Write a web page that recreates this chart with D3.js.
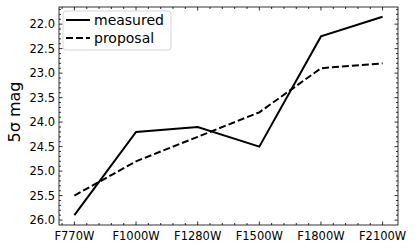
<!DOCTYPE html>
<html>
<head>
<meta charset="utf-8">
<script src="https://cdn.jsdelivr.net/npm/d3@7"></script>
<style>
  body { margin: 0; background: #fff; }
  svg { font-family: "DejaVu Sans", sans-serif; }
</style>
</head>
<body>
<div id="chart"></div>
<script>
const filters = ["F770W", "F1000W", "F1280W", "F1500W", "F1800W", "F2100W"];
const measured = [25.9, 24.2, 24.1, 24.5, 22.25, 21.85];
const proposal = [25.5, 24.8, 24.3, 23.8, 22.9, 22.8];
const yTicks = [22.0, 22.5, 23.0, 23.5, 24.0, 24.5, 25.0, 25.5, 26.0];

const width = 415, height = 250;
const margin = {top: 7, right: 17, bottom: 25, left: 59};

const svg = d3.select("#chart").append("svg")
  .attr("width", width)
  .attr("height", height);

const x = d3.scaleLinear().domain([-0.25, 5.25]).range([margin.left, width - margin.right]);
// magnitudes: brighter at top
const y = d3.scaleLinear().domain([21.65, 26.1]).range([margin.top, height - margin.bottom]);

const x0 = margin.left, x1 = width - margin.right;
const y0 = margin.top, y1 = height - margin.bottom;

// minor ticks
const xMinor = d3.range(-1, 26).map(i => i * 0.2).filter(v => v > -0.25 && v < 5.25 && Math.abs(v - Math.round(v)) > 1e-6);
const yMinor = d3.range(216, 262).map(i => i / 10).filter(v => v > 21.65 && v < 26.1 && Math.abs(v * 2 - Math.round(v * 2)) > 1e-6);

const ticks = svg.append("g").attr("stroke", "#000").attr("stroke-width", 0.8);
filters.forEach((f, i) => {
  ticks.append("line").attr("x1", x(i)).attr("x2", x(i)).attr("y1", y1).attr("y2", y1 - 3.5);
  ticks.append("line").attr("x1", x(i)).attr("x2", x(i)).attr("y1", y0).attr("y2", y0 + 3.5);
});
xMinor.forEach(v => {
  ticks.append("line").attr("x1", x(v)).attr("x2", x(v)).attr("y1", y1).attr("y2", y1 - 2);
  ticks.append("line").attr("x1", x(v)).attr("x2", x(v)).attr("y1", y0).attr("y2", y0 + 2);
});
yTicks.forEach(v => {
  ticks.append("line").attr("y1", y(v)).attr("y2", y(v)).attr("x1", x0).attr("x2", x0 + 3.5);
  ticks.append("line").attr("y1", y(v)).attr("y2", y(v)).attr("x1", x1).attr("x2", x1 - 3.5);
});
yMinor.forEach(v => {
  ticks.append("line").attr("y1", y(v)).attr("y2", y(v)).attr("x1", x0).attr("x2", x0 + 2);
  ticks.append("line").attr("y1", y(v)).attr("y2", y(v)).attr("x1", x1).attr("x2", x1 - 2);
});

// tick labels
svg.append("g").selectAll("text").data(filters).join("text")
  .attr("x", (d, i) => x(i))
  .attr("y", y1 + 15)
  .attr("text-anchor", "middle")
  .attr("font-size", 11.5)
  .text(d => d);

svg.append("g").selectAll("text").data(yTicks).join("text")
  .attr("x", x0 - 4)
  .attr("y", d => y(d))
  .attr("dy", "0.35em")
  .attr("text-anchor", "end")
  .attr("font-size", 11.5)
  .text(d => d.toFixed(1));

svg.append("text")
  .attr("transform", `translate(20,112) rotate(-90)`)
  .attr("text-anchor", "middle")
  .attr("font-size", 16)
  .text("5σ mag");

// lines
const line = d3.line().x((d, i) => x(i)).y(d => y(d));

svg.append("path").datum(proposal)
  .attr("d", line)
  .attr("fill", "none")
  .attr("stroke", "#000")
  .attr("stroke-width", 2)
  .attr("stroke-dasharray", "7,3");

svg.append("path").datum(measured)
  .attr("d", line)
  .attr("fill", "none")
  .attr("stroke", "#000")
  .attr("stroke-width", 2);

// frame
svg.append("rect")
  .attr("x", x0).attr("y", y0)
  .attr("width", x1 - x0).attr("height", y1 - y0)
  .attr("fill", "none")
  .attr("stroke", "#000")
  .attr("stroke-width", 0.8);

// legend
const legend = svg.append("g");
legend.append("rect")
  .attr("x", 63).attr("y", 11)
  .attr("width", 108).attr("height", 39)
  .attr("rx", 3)
  .attr("fill", "#fff")
  .attr("fill-opacity", 0.8)
  .attr("stroke", "#ccc")
  .attr("stroke-width", 0.8);
const items = [["measured", null], ["proposal", "7,3"]];
items.forEach(([name, dash], i) => {
  const ly = 20 + i * 18;
  legend.append("line")
    .attr("x1", 66).attr("x2", 90)
    .attr("y1", ly).attr("y2", ly)
    .attr("stroke", "#000")
    .attr("stroke-width", 2)
    .attr("stroke-dasharray", dash);
  legend.append("text")
    .attr("x", 94).attr("y", ly)
    .attr("dy", "0.35em")
    .attr("font-size", 14)
    .text(name);
});
</script>
</body>
</html>
